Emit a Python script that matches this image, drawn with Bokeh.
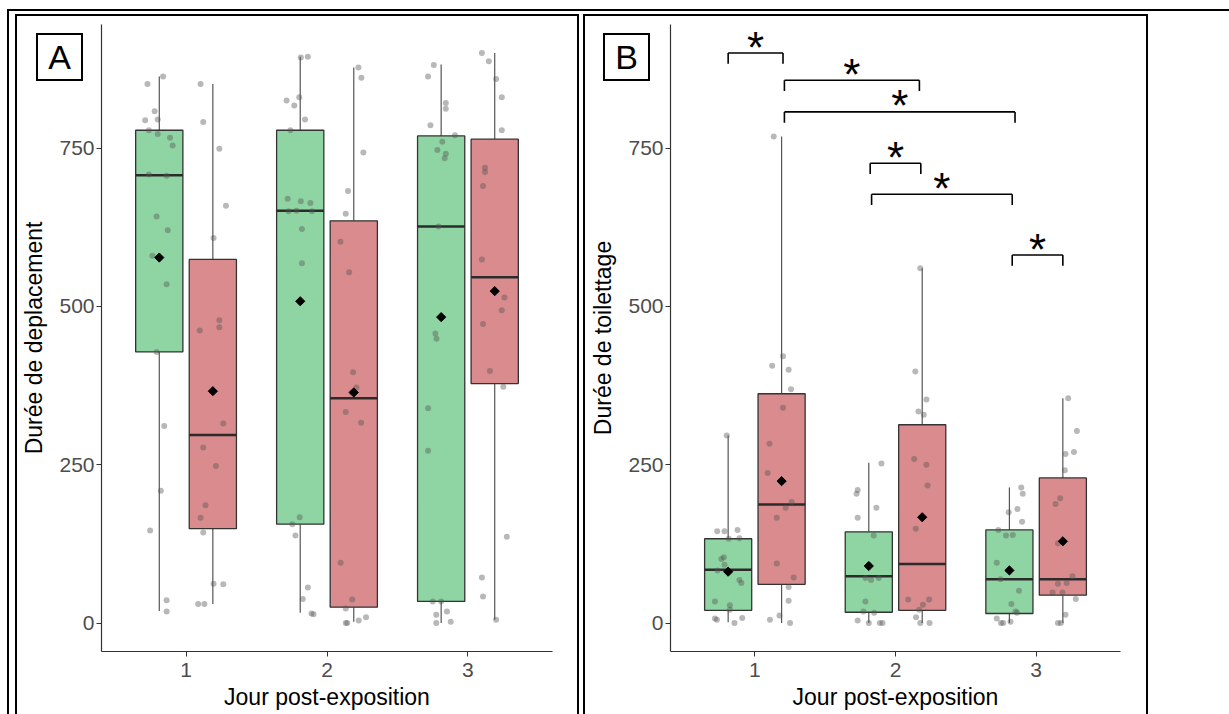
import numpy as np
from bokeh.plotting import figure
from bokeh.models import Range1d, FixedTicker, ColumnDataSource, Spacer, Div
from bokeh.layouts import row, column
from bokeh.embed import file_html
from bokeh.resources import INLINE
from bokeh.core.properties import value

# ---------------- data ----------------
days = [1, 2, 3]
y_ticks = [0, 250, 500, 750]
x_title = "Jour post-exposition"
A_ytitle = "Durée de deplacement"
B_ytitle = "Durée de toilettage"
panel_letters = ["A", "B"]

# Panel A: box statistics (green = témoin, red = exposé)
A_green_lo = [19, 16, 0]
A_green_q1 = [428, 156, 34]
A_green_med = [707, 651, 626]
A_green_q3 = [778, 778, 769]
A_green_hi = [863, 894, 882]
A_green_mean = [577, 508, 483]
A_red_lo = [30, 2, 5]
A_red_q1 = [149, 25, 378]
A_red_med = [297, 355, 546]
A_red_q3 = [574, 635, 764]
A_red_hi = [851, 877, 900]
A_red_mean = [366, 364, 524]

# Panel A: individual points (values) and their horizontal jitter
A_green_pts = [
    [851, 863, 808, 794, 795, 778, 772, 766, 754, 708, 706, 642, 620, 580, 535, 428, 311, 209, 146, 36, 18],
    [894, 893, 825, 817, 830, 795, 778, 670, 666, 663, 650, 651, 650, 622, 568, 167, 156, 138, 56, 38, 15, 14],
    [881, 863, 821, 812, 786, 770, 760, 747, 741, 734, 626, 457, 449, 339, 272, 34, 34, 13, 18, 0, 2],
]
A_green_jit = [
    [-0.084, 0.027, -0.033, -0.10, -0.011, -0.074, -0.011, 0.076, 0.095, -0.074, 0.052, -0.019, 0.06, -0.049, 0.052, -0.019, 0.035, 0.011, -0.065, 0.052, 0.052],
    [0.054, 0.004, -0.097, -0.042, -0.007, 0.034, -0.07, -0.089, 0.004, 0.072, -0.083, -0.026, 0.083, 0.012, 0.012, -0.004, -0.056, -0.034, 0.054, 0.018, 0.08, 0.094],
    [-0.052, -0.093, 0.033, 0.033, -0.076, 0.098, 0.008, -0.027, 0.033, 0.025, -0.019, -0.041, -0.033, -0.093, -0.093, -0.06, 0.0, -0.035, 0.041, -0.035, 0.068],
]
A_red_pts = [
    [851, 791, 749, 659, 608, 462, 467, 478, 315, 277, 248, 186, 166, 143, 62, 61, 30, 30],
    [877, 861, 743, 682, 646, 602, 554, 396, 372, 364, 333, 316, 95, 37, 23, 0, 0, 4, 9],
    [900, 887, 859, 830, 778, 719, 712, 690, 574, 514, 494, 472, 398, 373, 136, 72, 42, 5],
]
A_red_jit = [
    [-0.087, -0.068, 0.046, 0.093, 0.005, -0.093, 0.046, 0.046, 0.074, -0.068, 0.022, -0.052, -0.087, -0.068, 0.005, 0.074, -0.104, -0.06],
    [0.033, 0.054, 0.068, -0.041, -0.057, -0.095, -0.033, -0.005, 0.019, -0.014, -0.057, 0.052, -0.093, -0.011, -0.057, -0.057, -0.046, 0.035, 0.087],
    [-0.091, -0.042, 0.01, 0.05, 0.05, -0.069, -0.069, -0.083, -0.091, 0.069, 0.05, -0.083, -0.034, 0.061, 0.086, -0.091, -0.083, 0.01],
]

# Panel B: box statistics
B_green_lo = [1, 0, 0]
B_green_q1 = [20, 17, 15]
B_green_med = [84, 74, 69]
B_green_q3 = [133, 144, 147]
B_green_hi = [296, 253, 214]
B_green_mean = [81, 90, 83]
B_red_lo = [0, 0, 0]
B_red_q1 = [61, 20, 44]
B_red_med = [187, 93, 69]
B_red_q3 = [362, 313, 229]
B_red_hi = [768, 560, 355]
B_red_mean = [224, 167, 129]

B_green_pts = [
    [145, 145, 147, 133, 134, 104, 101, 92, 83, 68, 63, 34, 28, 21, 7, 5, 0, 8, 296],
    [210, 204, 252, 182, 166, 138, 92, 71, 68, 71, 34, 18, 16, 4, 0, 0, 0],
    [214, 204, 175, 180, 160, 147, 138, 139, 95, 69, 51, 30, 18, 16, 7, 0, 2, 0],
]
B_green_jit = [
    [-0.078, -0.026, 0.067, 0.004, 0.08, -0.031, -0.048, -0.026, -0.075, 0.08, 0.094, -0.094, 0.012, 0.012, -0.094, -0.08, 0.045, 0.1, -0.01],
    [-0.079, -0.087, 0.09, 0.054, -0.079, 0.035, 0.0, -0.024, 0.016, 0.071, -0.024, -0.038, 0.038, -0.079, 0.079, 0.098, 0.0],
    [0.084, 0.095, -0.005, 0.057, 0.09, -0.079, -0.024, 0.024, -0.09, -0.063, 0.068, 0.014, 0.044, 0.054, -0.09, -0.044, 0.008, -0.06],
]
B_red_pts = [
    [768, 406, 421, 400, 369, 340, 283, 237, 191, 182, 166, 94, 72, 57, 35, 12, 5, 0],
    [560, 397, 353, 334, 329, 259, 250, 217, 149, 37, 37, 29, 21, 9, 0, 0],
    [355, 303, 267, 270, 241, 197, 188, 126, 74, 62, 63, 48, 48, 38, 13, 0, 0],
]
B_red_jit = [
    [-0.056, -0.067, 0.01, 0.05, 0.067, 0.01, -0.086, -0.099, 0.072, 0.029, -0.034, -0.034, 0.086, 0.05, 0.05, -0.015, -0.083, 0.06],
    [-0.014, -0.049, 0.03, -0.027, 0.011, -0.057, 0.03, 0.038, -0.046, -0.1, 0.049, 0.005, -0.022, -0.044, -0.014, 0.052],
    [0.038, 0.1, 0.019, 0.079, 0.014, -0.019, -0.052, -0.035, 0.068, -0.035, 0.027, -0.073, -0.003, 0.092, 0.019, -0.035, -0.014],
]

# Panel B: significance brackets (group positions, bracket height, label)
sig_x0 = [0.81, 1.21, 1.21, 1.82, 1.83, 2.83]
sig_x1 = [1.20, 2.17, 2.85, 2.18, 2.83, 3.19]
sig_y = [900, 857, 807, 726, 677, 581]
sig_label = ["*", "*", "*", "*", "*", "*"]

# ---------------- styling ----------------
FONT = "Liberation Sans"
GREEN = "#8FD5A3"
RED = "#D98B8D"
DODGE = 0.19
BOX_W = 0.335


def draw_group(p, offset, fill, lo, q1, med, q3, hi):
    xs = [d + offset for d in days]
    p.segment(x0=xs, x1=xs, y0=q3, y1=hi, line_color="#555555", line_width=1.2)
    p.segment(x0=xs, x1=xs, y0=lo, y1=q1, line_color="#555555", line_width=1.2)
    p.vbar(x=xs, width=BOX_W, bottom=q1, top=q3, fill_color=fill,
           line_color="#333333", line_width=1.3)
    p.segment(x0=[x - BOX_W / 2 for x in xs], x1=[x + BOX_W / 2 for x in xs],
              y0=med, y1=med, line_color="#2b2b2b", line_width=2.5)
    return xs


def draw_points(p, offset, pts, jit):
    px, py = [], []
    for d, vals, js in zip(days, pts, jit):
        for v, j in zip(vals, js):
            px.append(d + offset + j)
            py.append(v)
    p.scatter(px, py, size=6, fill_color="#555555", line_color=None, fill_alpha=0.42)


def make_panel(ytitle, green, red, width, mbl, mbr):
    p = figure(width=width, height=698, x_range=Range1d(0.4, 3.6), y_range=Range1d(-45, 945),
               output_backend="svg", toolbar_location=None,
               min_border_left=mbl, min_border_right=mbr, min_border_top=8, min_border_bottom=63)
    p.grid.visible = False
    p.outline_line_color = None
    p.background_fill_color = "white"
    p.border_fill_color = "white"

    p.xaxis.ticker = FixedTicker(ticks=days)
    p.yaxis.ticker = FixedTicker(ticks=y_ticks)
    p.xaxis.axis_label = x_title
    p.yaxis.axis_label = ytitle
    for ax in (p.xaxis, p.yaxis):
        ax.minor_tick_line_color = None
        ax.major_tick_in = 0
        ax.major_tick_out = 5
        ax.axis_line_color = "#333333"
        ax.axis_line_width = 1.2
        ax.major_tick_line_color = "#333333"
        ax.major_label_text_font = FONT
        ax.major_label_text_font_size = "21px"
        ax.major_label_text_color = "#4D4D4D"
        ax.axis_label_text_font = FONT
        ax.axis_label_text_font_size = "23px"
        ax.axis_label_text_font_style = "normal"
        ax.axis_label_text_color = "black"
    p.yaxis.major_label_standoff = 2
    p.yaxis.axis_label_standoff = 9
    p.xaxis.major_label_standoff = 6
    p.xaxis.axis_label_standoff = 4

    gx = draw_group(p, -DODGE, GREEN, *green[:5])
    rx = draw_group(p, DODGE, RED, *red[:5])
    draw_points(p, -DODGE, green[6], green[7])
    draw_points(p, DODGE, red[6], red[7])
    p.scatter(gx, green[5], marker="square", angle=np.pi / 4, size=6.5, color="black")
    p.scatter(rx, red[5], marker="square", angle=np.pi / 4, size=6.5, color="black")
    return p


pA = make_panel(A_ytitle,
                [A_green_lo, A_green_q1, A_green_med, A_green_q3, A_green_hi, A_green_mean, A_green_pts, A_green_jit],
                [A_red_lo, A_red_q1, A_red_med, A_red_q3, A_red_hi, A_red_mean, A_red_pts, A_red_jit],
                width=560, mbl=84, mbr=25)
pB = make_panel(B_ytitle,
                [B_green_lo, B_green_q1, B_green_med, B_green_q3, B_green_hi, B_green_mean, B_green_pts, B_green_jit],
                [B_red_lo, B_red_q1, B_red_med, B_red_q3, B_red_hi, B_red_mean, B_red_pts, B_red_jit],
                width=561, mbl=85, mbr=26)

# significance brackets
LEG = 17
pB.segment(x0=sig_x0, x1=sig_x1, y0=sig_y, y1=sig_y, line_color="black", line_width=1.6)
pB.segment(x0=sig_x0, x1=sig_x0, y0=sig_y, y1=[y - LEG for y in sig_y], line_color="black", line_width=1.6)
pB.segment(x0=sig_x1, x1=sig_x1, y0=sig_y, y1=[y - LEG for y in sig_y], line_color="black", line_width=1.6)
star_src = ColumnDataSource(dict(x=[(a + b) / 2 for a, b in zip(sig_x0, sig_x1)], y=sig_y, t=sig_label))
pB.text(x="x", y="y", text="t", source=star_src, text_font=value(FONT), text_font_size="44px",
        text_align="center", text_baseline="alphabetic", y_offset=-6, text_color="black")

# panel frames drawn as outlines (do not affect layout)
pA.styles = {"outline": "2px solid black"}
pB.styles = {"outline": "2px solid black"}


def letter_box(letter, left, top):
    return Div(text=letter, styles={
        "position": "absolute", "left": f"{left}px", "top": f"{top}px", "z-index": "10",
        "width": "47px", "height": "48px", "box-sizing": "border-box", "margin": "0",
        "border": "2px solid black", "background-color": "white",
        "font-family": FONT, "font-size": "34px", "line-height": "44px",
        "text-align": "center", "color": "black",
    })


BLACK = {"background-color": "black"}
inner = column(
    Spacer(width=1220, height=2, styles=BLACK),
    Spacer(width=1220, height=5),
    row(Spacer(width=8, height=698), pA, Spacer(width=8, height=698), pB,
        letter_box(panel_letters[0], 27, 17), letter_box(panel_letters[1], 594, 17),
        spacing=0, styles={"position": "relative"}),
    spacing=0,
)
layout = column(
    Spacer(width=1229, height=9),
    row(Spacer(width=7, height=705), Spacer(width=2, height=705, styles=BLACK), inner, spacing=0),
    spacing=0,
)

open("out.html", "w").write(file_html(layout, INLINE))
